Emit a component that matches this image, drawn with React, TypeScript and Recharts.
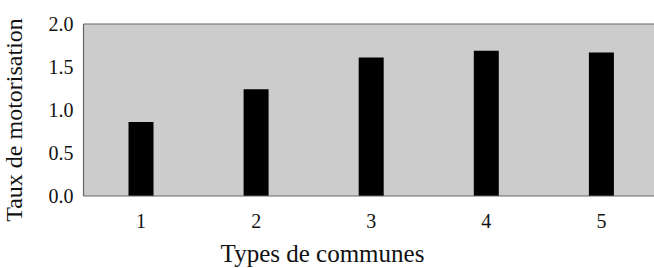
import { Bar, BarChart, CartesianGrid, Label, ReferenceLine, XAxis, YAxis } from 'recharts';

const communes = ['1', '2', '3', '4', '5'];
const taux = [0.86, 1.24, 1.61, 1.69, 1.67];
const yTicks = [0, 0.5, 1, 1.5, 2];

const font = '"Liberation Serif", "Times New Roman", serif';
const ink = '#111';

export default function App() {
  const data = communes.map((type, i) => ({ type, taux: taux[i] }));
  return (
    <div style={{ position: 'absolute', left: 0, top: 0, width: 654, height: 268, overflow: 'hidden', background: '#fff' }}>
      <BarChart
        width={660}
        height={268}
        data={data}
        margin={{ top: 24, right: 1, left: 0, bottom: 0 }}
        barCategoryGap={0}
      >
        <CartesianGrid horizontal={false} vertical={false} fill="#cccccc" />
        <ReferenceLine y={2} stroke="#666" strokeWidth={1.2} />
        <XAxis
          dataKey="type"
          height={72}
          tickLine={false}
          axisLine={{ stroke: '#666', strokeWidth: 1.2 }}
          tick={{ fontFamily: font, fontSize: 20, fill: ink }}
          tickMargin={12}
        >
          <Label
            content={({ viewBox }: any) => (
              <text
                x={viewBox.x + 239}
                y={viewBox.y + 66}
                textAnchor="middle"
                fontFamily={font}
                fontSize={25}
                fill={ink}
              >
                Types de communes
              </text>
            )}
          />
        </XAxis>
        <YAxis
          width={83.5}
          domain={[0, 2]}
          ticks={yTicks}
          tickFormatter={(v: number) => v.toFixed(1)}
          tickLine={false}
          axisLine={{ stroke: '#666', strokeWidth: 1.2 }}
          tick={{ fontFamily: font, fontSize: 20, fill: ink }}
          tickMargin={4}
        >
          <Label
            content={({ viewBox }: any) => (
              <text
                transform={`translate(${viewBox.x + 22}, ${viewBox.y + 96}) rotate(-90)`}
                textAnchor="middle"
                fontFamily={font}
                fontSize={24}
                fill={ink}
              >
                Taux de motorisation
              </text>
            )}
          />
        </YAxis>
        <Bar dataKey="taux" fill="#000" barSize={25} isAnimationActive={false} />
      </BarChart>
    </div>
  );
}
